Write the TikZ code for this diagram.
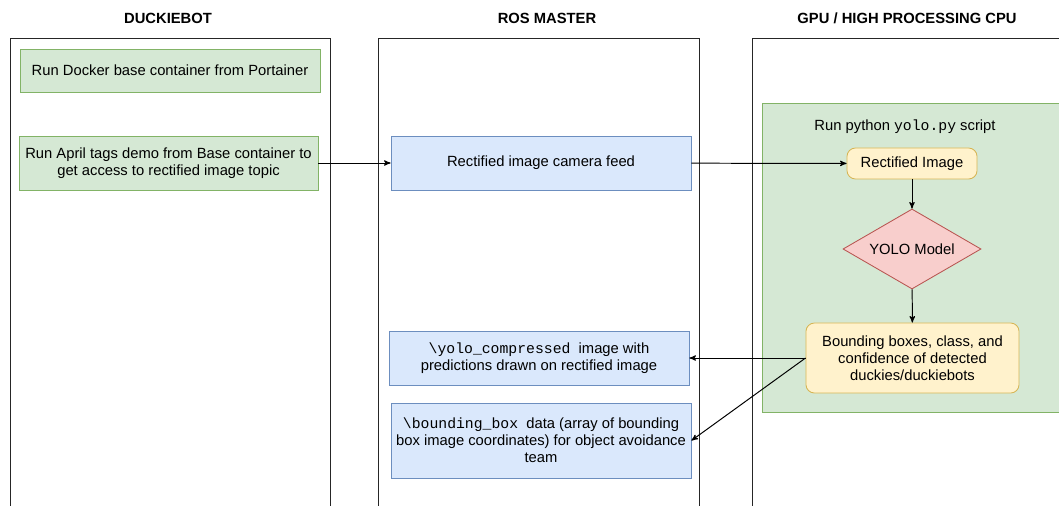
\documentclass[tikz,border=0pt]{standalone}
\usepackage{fontspec}
\setmainfont{Liberation Sans}
\setmonofont{Liberation Mono}
\usetikzlibrary{arrows}
\usetikzlibrary{shapes.geometric}
\definecolor{mgreen}{HTML}{D5E8D4}
\definecolor{dgreen}{HTML}{82B366}
\definecolor{mblue}{HTML}{DAE8FC}
\definecolor{dblue}{HTML}{6C8EBF}
\definecolor{myellow}{HTML}{FFF2CC}
\definecolor{dyellow}{HTML}{D6B656}
\definecolor{mred}{HTML}{F8CECC}
\definecolor{dred}{HTML}{B85450}
\tikzset{lane/.style = {draw=black!85, line width=0.7pt}}
\tikzset{title/.style = {font=\fontsize{10.5}{12}\selectfont\bfseries}}
\tikzset{box/.style = {align=center, inner sep=2pt, line width=0.6pt,
                       font=\fontsize{10.5}{12}\selectfont}}
\tikzset{gbox/.style = {box, draw=dgreen, fill=mgreen}}
\tikzset{bbox/.style = {box, draw=dblue, fill=mblue, minimum width=7.5cm}}
\tikzset{ybox/.style = {box, draw=dyellow, fill=myellow, rounded corners=6pt}}
\tikzset{flow/.style = {->, >=stealth', line width=0.7pt}}

\begin{document}
\begin{tikzpicture}[x=0.025cm, y=-0.025cm]
      \useasboundingbox (0, 0) rectangle (1059, 506);
      \clip (0, 0) rectangle (1059, 506);
      % swim lanes
      \draw [lane] (10, 38) rectangle (330, 520);
      \draw [lane] (378, 38) rectangle (699, 520);
      \draw [lane] (752, 38) rectangle (1080, 520);
      \node [title] (tbot) at (168, 18) {DUCKIEBOT};
      \node [title] (tros) at (547, 18) {ROS MASTER};
      \node [title] (tgpu) at (907, 18) {GPU / HIGH PROCESSING CPU};
      % duckiebot side
      \node [gbox, minimum width=7.5cm, minimum height=1.075cm] (docker) at (170, 70.5)
            {Run Docker base container from Portainer};
      \node [gbox, minimum width=7.475cm, minimum height=1.35cm] (april) at (168.5, 163)
            {Run April tags demo from Base container to\\get access to rectified image topic};
      % ros master topics
      \node [bbox, minimum height=1.35cm] (feed) at (541, 163) {Rectified image camera feed};
      \node [bbox, minimum height=1.35cm] (ycomp) at (539, 358)
            {\texttt{\textbackslash yolo\_compressed}~ image with\\predictions drawn on rectified image};
      \node [bbox, minimum height=1.875cm] (bbdata) at (541, 440.5)
            {\texttt{\textbackslash bounding\_box}~ data (array of bounding\\box image coordinates) for object avoidance\\team};
      % yolo script
      \draw [draw=dgreen, fill=mgreen, line width=0.6pt] (762, 103) rectangle (1080, 412);
      \node [box] (script) at (905, 127) {Run python \texttt{yolo.py} script};
      \node [ybox, minimum width=3.25cm, minimum height=0.775cm] (rect) at (912, 163.5) {Rectified Image};
      \node [box, diamond, aspect=1.725, draw=dred, fill=mred, minimum width=3.45cm,
             minimum height=2cm, inner sep=0] (model) at (912, 249) {YOLO Model};
      \node [ybox, minimum width=5.325cm, minimum height=1.75cm] (det) at (912.5, 358)
            {Bounding boxes, class, and\\confidence of detected\\duckies/duckiebots};
      % connectors
      \draw [flow] (april) -- (feed);
      \draw [flow] (feed) -- (rect);
      \draw [flow] (rect) -- (model);
      \draw [flow] (model) -- (det);
      \draw [flow] (det.west) -- (ycomp.east);
      \draw [flow] (det.west) -- (bbdata.east);
\end{tikzpicture}
\end{document}
